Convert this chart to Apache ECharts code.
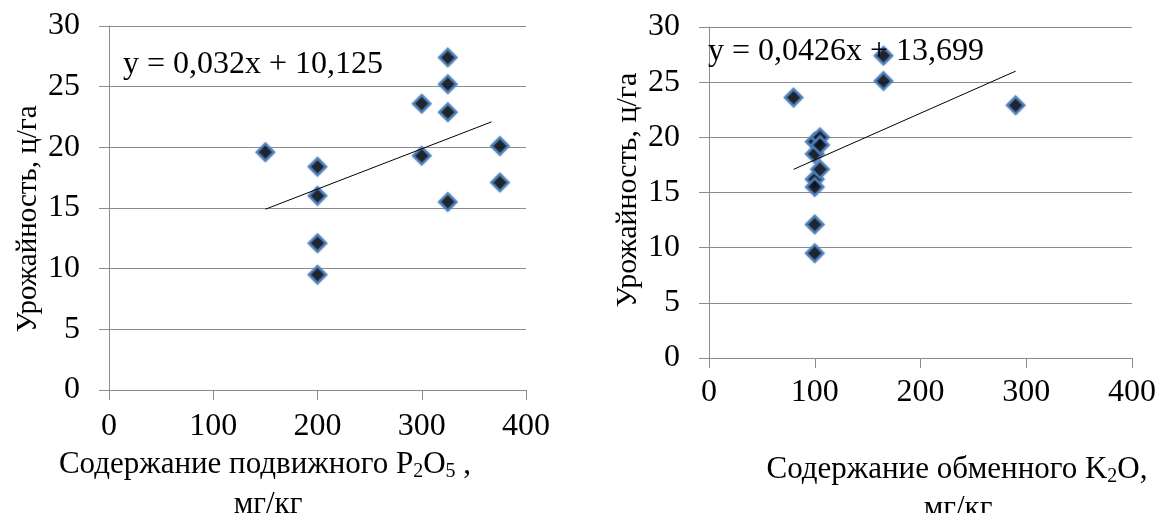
<!DOCTYPE html>
<html>
<head>
<meta charset="utf-8">
<script src="https://cdn.jsdelivr.net/npm/echarts@6/dist/echarts.min.js"></script>
<style>
html,body{margin:0;padding:0;background:#fff;}
#c{width:1159px;height:513px;}
</style>
</head>
<body>
<div id="c"></div>
<script>
// ---- data ----
const xTicks = ['0', '100', '200', '300', '400'];
const yTicks = ['0', '5', '10', '15', '20', '25', '30'];

// left chart: mobile P2O5, mg/kg vs yield, c/ha
const p2o5 = [150, 200, 200, 200, 200, 300, 300, 325, 325, 325, 325, 375, 375];
const yieldP = [19.6, 18.4, 16.0, 12.1, 9.5, 23.6, 19.3, 27.4, 25.2, 22.9, 15.5, 20.1, 17.1];
const trendPx = [150, 367];
const trendPy = [14.9, 22.1];
const eqP = 'y = 0,032x + 10,125';

// right chart: exchangeable K2O, mg/kg vs yield, c/ha
const k2o = [80, 100, 100, 100, 100, 100, 100, 105, 105, 105, 165, 165, 290];
const yieldK = [23.6, 19.6, 18.5, 16.2, 15.5, 12.1, 9.5, 20.0, 19.3, 17.1, 27.4, 25.1, 22.9];
const trendKx = [80, 290];
const trendKy = [17.1, 26.0];
const eqK = 'y = 0,0426x + 13,699';

const yTitle = 'Урожайность, ц/га';
const xTitleP = 'Содержание подвижного P{sub|2}O{sub|5} ,';
const xTitleK = 'Содержание обменного K{sub|2}O,';
const unit = 'мг/кг';

// ---- chart ----
const FONT = "'Liberation Serif', 'Times New Roman', serif";
const GRID = '#8c8c8c';
const pairs = (a, b) => a.map((v, i) => [v, b[i]]);

function xAxisCfg(gi, margin) {
  return {
    type: 'value', gridIndex: gi, min: 0, max: 400, interval: 100,
    axisLine: {show: true, lineStyle: {color: GRID, width: 1}},
    axisTick: {show: true, length: 10, lineStyle: {color: GRID}},
    splitLine: {show: false},
    axisLabel: {fontFamily: FONT, fontSize: 32, color: '#000', margin: margin,
      formatter: v => xTicks[Math.round(v / 100)]}
  };
}
function yAxisCfg(gi) {
  return {
    type: 'value', gridIndex: gi, min: 0, max: 30, interval: 5,
    axisLine: {show: true, lineStyle: {color: GRID, width: 1}},
    axisTick: {show: true, length: 10, lineStyle: {color: GRID}},
    splitLine: {show: true, lineStyle: {color: GRID, width: 1}},
    axisLabel: {fontFamily: FONT, fontSize: 32, color: '#000', margin: 29,
      formatter: v => yTicks[Math.round(v / 5)]}
  };
}
const markerStyle = {color: '#000', borderColor: '#4f81bd', borderWidth: 2.5, shadowColor: 'rgba(79,129,189,0.7)', shadowBlur: 2};

const option = {
  animation: false,
  backgroundColor: '#fff',
  grid: [
    {left: 109, top: 26, width: 417, height: 364},
    {left: 709, top: 27, width: 425, height: 331}
  ],
  xAxis: [xAxisCfg(0, 21), xAxisCfg(1, 19)],
  yAxis: [yAxisCfg(0), yAxisCfg(1)],
  series: [
    {type: 'line', xAxisIndex: 0, yAxisIndex: 0, data: pairs(trendPx, trendPy), symbol: 'none',
      lineStyle: {color: '#000', width: 1}, z: 3, silent: true},
    {type: 'scatter', xAxisIndex: 0, yAxisIndex: 0, data: pairs(p2o5, yieldP), symbol: 'diamond',
      symbolSize: 17, itemStyle: markerStyle, z: 2},
    {type: 'line', xAxisIndex: 1, yAxisIndex: 1, data: pairs(trendKx, trendKy), symbol: 'none',
      lineStyle: {color: '#000', width: 1}, z: 3, silent: true},
    {type: 'scatter', xAxisIndex: 1, yAxisIndex: 1, data: pairs(k2o, yieldK), symbol: 'diamond',
      symbolSize: 17, itemStyle: markerStyle, z: 2}
  ],
  graphic: [
    {type: 'text', x: 123, y: 65, z: 10, style: {text: eqP, fontFamily: FONT, fontSize: 32, fill: '#000', align: 'left', verticalAlign: 'middle'}},
    {type: 'text', x: 708, y: 52, z: 10, style: {text: eqK, fontFamily: FONT, fontSize: 32, fill: '#000', align: 'left', verticalAlign: 'middle'}},
    {type: 'text', x: 28, y: 219, rotation: Math.PI / 2, z: 10, style: {text: yTitle, fontFamily: FONT, fontSize: 29, fill: '#000', align: 'center', verticalAlign: 'middle'}},
    {type: 'text', x: 628, y: 190, rotation: Math.PI / 2, z: 10, style: {text: yTitle, fontFamily: FONT, fontSize: 30, fill: '#000', align: 'center', verticalAlign: 'middle'}},
    {type: 'text', x: 265, y: 465, z: 10, style: {text: xTitleP, fontFamily: FONT, fontSize: 31, fill: '#000', align: 'center', verticalAlign: 'middle', lineHeight: 34,
      rich: {sub: {fontFamily: FONT, fontSize: 20, lineHeight: 16, verticalAlign: 'bottom', fill: '#000'}}}},
    {type: 'text', x: 268, y: 505, z: 10, style: {text: unit, fontFamily: FONT, fontSize: 31, fill: '#000', align: 'center', verticalAlign: 'middle'}},
    {type: 'text', x: 957, y: 470, z: 10, style: {text: xTitleK, fontFamily: FONT, fontSize: 31, fill: '#000', align: 'center', verticalAlign: 'middle', lineHeight: 34,
      rich: {sub: {fontFamily: FONT, fontSize: 20, lineHeight: 16, verticalAlign: 'bottom', fill: '#000'}}}},
    {type: 'text', x: 958, y: 509, z: 10, style: {text: unit, fontFamily: FONT, fontSize: 31, fill: '#000', align: 'center', verticalAlign: 'middle'}}
  ]
};
const chart = echarts.init(document.getElementById('c'), null, {renderer: 'canvas'});
chart.setOption(option);
</script>
</body>
</html>
